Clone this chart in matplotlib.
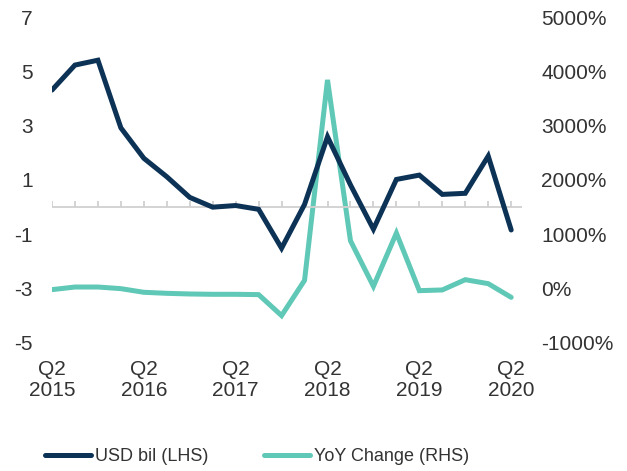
import numpy as np
import matplotlib.pyplot as plt
from matplotlib.ticker import FuncFormatter

# quarterly values, Q2 2015 .. Q2 2020
quarters = ["Q2 2015", "Q3 2015", "Q4 2015", "Q1 2016", "Q2 2016", "Q3 2016", "Q4 2016",
            "Q1 2017", "Q2 2017", "Q3 2017", "Q4 2017", "Q1 2018", "Q2 2018", "Q3 2018",
            "Q4 2018", "Q1 2019", "Q2 2019", "Q3 2019", "Q4 2019", "Q1 2020", "Q2 2020"]
usd_bil = [4.31, 5.23, 5.41, 2.92, 1.80, 1.12, 0.36, 0.0, 0.06, -0.08, -1.51,
           0.10, 2.59, 0.82, -0.81, 1.02, 1.18, 0.47, 0.51, 1.88, -0.84]
yoy_pct = [-18, 30, 30, 0, -67, -86, -98, -104, -104, -110, -496,
           153, 3842, 882, 43, 1023, -37, -24, 165, 92, -160]
label_idx = [0, 4, 8, 12, 16, 20]
label_text = ["Q2\n2015", "Q2\n2016", "Q2\n2017", "Q2\n2018", "Q2\n2019", "Q2\n2020"]

navy = '#0c3256'
teal = '#5fc8b6'
grey_txt = '#333333'

plt.rcParams['font.family'] = ['Liberation Sans', 'DejaVu Sans']
plt.rcParams['axes.unicode_minus'] = False

fig = plt.figure(figsize=(6.27, 4.71), dpi=100)
ax = fig.add_axes([0.0829, 0.2718, 0.7496, 0.6921])
ax2 = ax.twinx()

x = np.arange(len(quarters))

# zero line with small category ticks
ax.axhline(0, color='#d0d0d0', linewidth=1.3, zorder=1)
ax.vlines(x, 0, 0.22, color='#d0d0d0', linewidth=1.3, zorder=1)

l1, = ax.plot(x, usd_bil, color=navy, linewidth=3.6, solid_joinstyle='miter',
              solid_capstyle='round', label="USD bil (LHS)", zorder=3)
l2, = ax2.plot(x, yoy_pct, color=teal, linewidth=3.6, solid_joinstyle='miter',
               solid_capstyle='round', label="YoY Change (RHS)", zorder=2)
ax.set_zorder(ax2.get_zorder() + 1)
ax.patch.set_visible(False)

ax.set_xlim(0, 20.47)
ax.set_ylim(-5, 7)
ax.set_yticks([-5, -3, -1, 1, 3, 5, 7])
ax2.set_ylim(-1000, 5000)
ax2.set_yticks(np.arange(-1000, 5001, 1000))
ax2.yaxis.set_major_formatter(FuncFormatter(lambda v, p: f"{v:.0f}%"))

ax.set_xticks(label_idx)
ax.set_xticklabels(label_text, linespacing=1.15)

for a in (ax, ax2):
    for s in a.spines.values():
        s.set_visible(False)
    a.tick_params(length=0, labelsize=15, colors=grey_txt)
ax.tick_params(axis='y', pad=14)
ax2.tick_params(axis='y', pad=14)
ax.tick_params(axis='x', pad=12)

fig.legend(handles=[l1, l2], loc='center', bbox_to_anchor=(0.41, 0.03), ncol=2,
           frameon=False, fontsize=13, handlelength=2.55, handletextpad=0.22,
           columnspacing=3.1, labelcolor=grey_txt)

fig.savefig('out.png', dpi=100)
